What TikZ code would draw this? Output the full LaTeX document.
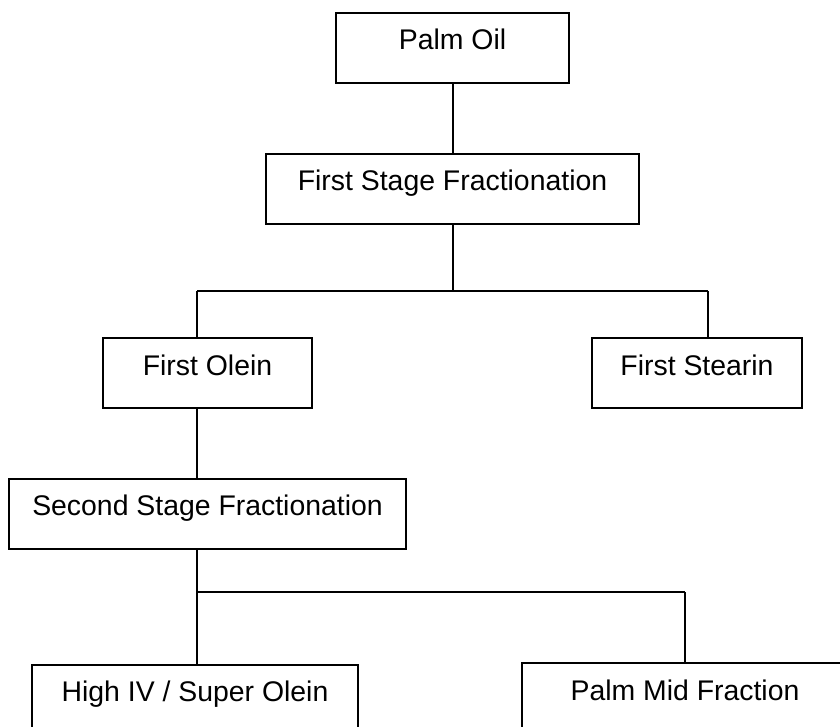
\documentclass[tikz,border=0pt]{standalone}
\usepackage{fontspec}
\setmainfont{Liberation Sans}
\begin{document}
\begin{tikzpicture}[x=0.5pt,y=-0.5pt,
  flowbox/.style={draw=black, line width=1pt, rectangle, anchor=north,
    inner xsep=0pt, inner ysep=0pt, minimum height=0pt,
    text height=18.5pt, text depth=16.5pt,
    font=\fontsize{14.2}{17}\selectfont},
  link/.style={draw=black, line width=0.8pt}]
\useasboundingbox (0,0) rectangle (840,727);
\clip (0,0) rectangle (840,727);
\fill[white] (0,0) rectangle (840,727);
% boxes
\node[flowbox, minimum width=116.5pt] (po)  at (452.5,12)  {Palm Oil};
\node[flowbox, minimum width=186.5pt] (fs)  at (452.5,153) {First Stage Fractionation};
\node[flowbox, minimum width=104.5pt] (fo)  at (207.5,337) {First Olein};
\node[flowbox, minimum width=105pt]   (fst) at (697,337)   {First Stearin};
\node[flowbox, minimum width=198.5pt] (ss)  at (207.5,477.5) {Second Stage Fractionation};
\node[flowbox, minimum width=163pt]   (hi)  at (195,663.5) {High IV / Super Olein};
\node[flowbox, minimum width=163pt]   (pm)  at (685,662)   {Palm Mid Fraction};
% junction points
\coordinate (j1)  at (453,291);
\coordinate (j1l) at (197,291);
\coordinate (j1r) at (708,291);
\coordinate (j2l) at (197,592);
\coordinate (j2r) at (685,592);
% connectors
\draw[link] (po.south -| j1) -- (fs.north -| j1);
\draw[link] (fs.south -| j1) -- (j1);
\draw[link] (j1l) -- (j1r);
\draw[link] (j1l) -- (j1l |- fo.north);
\draw[link] (j1r) -- (j1r |- fst.north);
\draw[link] (fo.south -| j1l) -- (ss.north -| j1l);
\draw[link] (ss.south -| j2l) -- (j2l);
\draw[link] (j2l) -- (j2r);
\draw[link] (j2l) -- (j2l |- hi.north);
\draw[link] (j2r) -- (j2r |- pm.north);
\end{tikzpicture}
\end{document}
